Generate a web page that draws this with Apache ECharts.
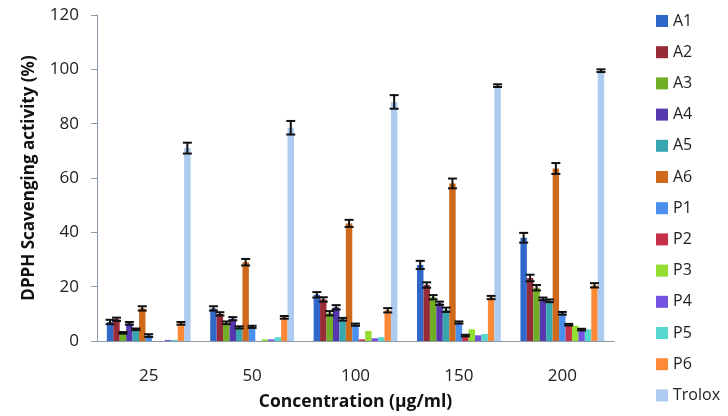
<!DOCTYPE html>
<html><head><meta charset="utf-8">
<script src="https://cdn.jsdelivr.net/npm/echarts@6/dist/echarts.min.js"></script>
<style>html,body{margin:0;padding:0;background:#fff}#c{width:728px;height:416px}</style>
</head><body><div id="c"></div>
<script>
var categories = ['25', '50', '100', '150', '200'];
var seriesNames = ['A1','A2','A3','A4','A5','A6','P1','P2','P3','P4','P5','P6','Trolox'];
var A1 = [7, 12, 17, 28, 38];
var A2 = [8, 10, 15.3, 20.6, 23.2];
var A3 = [3, 6.7, 10.2, 16.1, 19.6];
var A4 = [6.5, 8.2, 12.4, 13.9, 15.5];
var A5 = [4.3, 5, 8, 11.5, 14.8];
var A6 = [12, 29, 43.3, 58, 63.5];
var P1 = [2, 5.2, 6, 6.8, 10.2];
var P2 = [0, 0, 0.6, 2, 6];
var P3 = [0, 0.6, 3.7, 4.3, 5.6];
var P4 = [0.4, 0.6, 1, 2.1, 4.2];
var P5 = [0.4, 1.4, 1.4, 2.6, 4.3];
var P6 = [6.5, 8.7, 11.3, 16, 20.5];
var Trolox = [71, 78.5, 88, 94, 99.5];
var eA1 = [0.8, 0.8, 1, 1.5, 1.8];
var eA2 = [0.6, 0.6, 0.8, 1, 1.2];
var eA3 = [0.3, 0.5, 0.8, 0.8, 1];
var eA4 = [0.5, 0.6, 0.8, 0.6, 0.5];
var eA5 = [0.3, 0.4, 0.5, 0.8, 0.5];
var eA6 = [0.8, 1.2, 1.3, 1.8, 2];
var eP1 = [0.5, 0.4, 0.4, 0.4, 0.5];
var eP2 = [null, null, null, 0.3, 0.3];
var eP3 = [null, null, null, null, null];
var eP4 = [null, null, null, null, 0.3];
var eP5 = [null, null, null, null, null];
var eP6 = [0.5, 0.5, 0.8, 0.6, 0.8];
var eTrolox = [2, 2.5, 2.5, 0.5, 0.5];
var yTicks = [0, 20, 40, 60, 80, 100, 120];

var values = [A1,A2,A3,A4,A5,A6,P1,P2,P3,P4,P5,P6,Trolox];
var errors = [eA1,eA2,eA3,eA4,eA5,eA6,eP1,eP2,eP3,eP4,eP5,eP6,eTrolox];
var colors = ['#2F68C8','#982B38','#6FAE25','#5637AE','#38A6AE','#CF6A1C','#4A8FEE','#C8304A','#93DE2E','#7252DF','#56D8D0','#FE8A38','#ADCBF0'];
var catGap = 0.19;
var nS = seriesNames.length;

var series = [];
seriesNames.forEach(function (n, i) {
  series.push({ name: n, type: 'bar', data: values[i], barGap: 0, barCategoryGap: (catGap*100)+'%', itemStyle: { color: colors[i] }, z: 2 });
});
seriesNames.forEach(function (n, i) {
  var d = [];
  values[i].forEach(function (v, k) { if (errors[i][k] != null) d.push([k, v, errors[i][k]]); });
  series.push({
    type: 'custom', name: n + '_err', z: 5, silent: true,
    data: d, encode: { x: 0, y: 1 },
    renderItem: (function (idx) {
      return function (params, api) {
        var k = api.value(0), v = api.value(1), e = api.value(2);
        var band = api.size([1, 0])[0];
        var bw = band * (1 - catGap) / nS;
        var c = api.coord([k, v]);
        var x = c[0] + (idx - (nS - 1) / 2) * bw;
        var top = api.coord([k, v + e])[1];
        var bot = api.coord([k, v - e])[1];
        var hw = 4.5;
        var st = { stroke: '#111', lineWidth: 2 };
        return { type: 'group', children: [
          { type: 'line', shape: { x1: x, y1: top, x2: x, y2: bot }, style: st },
          { type: 'line', shape: { x1: x - hw, y1: top, x2: x + hw, y2: top }, style: st },
          { type: 'line', shape: { x1: x - hw, y1: bot, x2: x + hw, y2: bot }, style: st }
        ] };
      };
    })(i)
  });
});

var chart = echarts.init(document.getElementById('c'));
chart.setOption({
  animation: false,
  textStyle: { fontFamily: 'Open Sans' },
  grid: { left: 97, right: 114, top: 15, bottom: 75, containLabel: false, outerBoundsMode: 'none' },
  legend: {
    orient: 'vertical', left: 651, top: 8, bottom: 0, itemWidth: 12, itemHeight: 12, itemGap: 15.2,
    data: seriesNames, icon: 'rect', itemStyle: { borderWidth: 0 },
    textStyle: { fontSize: 16, color: '#222', fontFamily: 'Open Sans' }
  },
  xAxis: {
    type: 'category', data: categories,
    axisLine: { lineStyle: { color: '#8a9aa8', width: 1 } },
    axisTick: { show: false },
    axisLabel: { fontSize: 17, color: '#222', margin: 27 },
    name: 'Concentration (µg/ml)', nameLocation: 'middle', nameGap: 52,
    nameTextStyle: { fontSize: 17.5, fontWeight: 'bold', color: '#111' }
  },
  yAxis: {
    type: 'value', min: yTicks[0], max: yTicks[yTicks.length - 1], interval: 20,
    axisLine: { show: true, lineStyle: { color: '#8a9aa8' } },
    axisTick: { show: true, length: 6, lineStyle: { color: '#8a9aa8' } },
    splitLine: { show: false },
    axisLabel: { fontSize: 17, color: '#222', margin: 18 },
    name: 'DPPH Scavenging activity (%)', nameLocation: 'middle', nameGap: 59,
    nameTextStyle: { fontSize: 17, fontWeight: 'bold', color: '#111' }
  },
  series: series
});
</script></body></html>
